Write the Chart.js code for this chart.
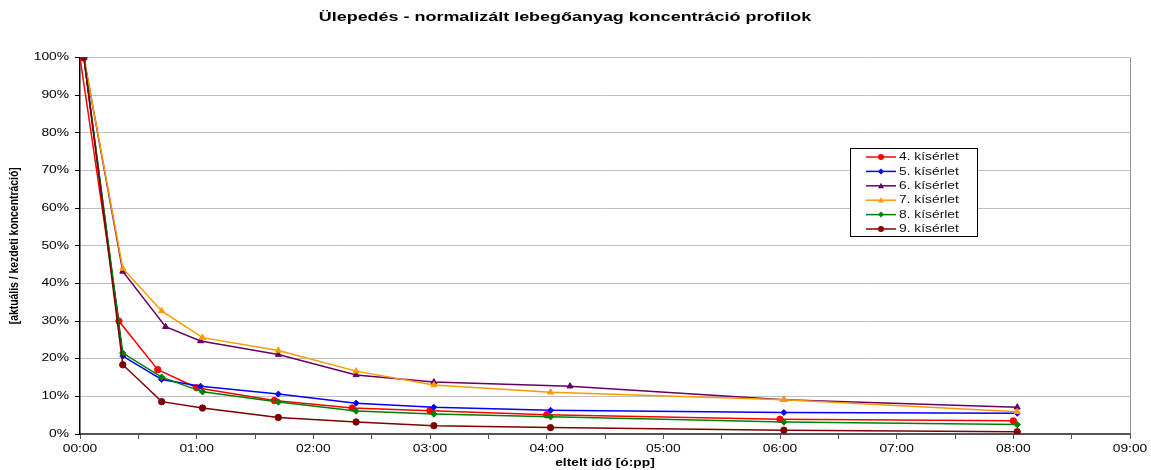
<!DOCTYPE html>
<html>
<head>
<meta charset="utf-8">
<script src="https://cdn.jsdelivr.net/npm/chart.js@4.4.0/dist/chart.umd.min.js"></script>
<style>
  html, body { margin: 0; padding: 0; background: #fff; }
  #wrap { width: 1151px; height: 470px; }
</style>
</head>
<body>
<div id="wrap"><canvas id="myChart" width="1151" height="470"></canvas></div>
<script>
// elapsed time in minutes, values in % of initial concentration
const labels = ['4. kísérlet', '5. kísérlet', '6. kísérlet', '7. kísérlet', '8. kísérlet', '9. kísérlet'];

const t4 = [0, 20, 40, 60, 100, 140, 180, 240, 360, 480];
const v4 = [100, 30, 17.1, 12.3, 8.9, 6.9, 6.2, 5.1, 3.9, 3.5];

const t5 = [2, 22, 42, 62, 102, 142, 182, 242, 362, 482];
const v5 = [100, 20.7, 14.5, 12.7, 10.6, 8.2, 7.1, 6.3, 5.7, 5.5];

const t6 = [2, 22, 44, 62, 102, 142, 182, 252, 362, 482];
const v6 = [100, 43.2, 28.5, 24.7, 21.1, 15.7, 13.8, 12.7, 9.1, 7.1];

const t7 = [2, 22, 42, 63, 102, 142, 182, 242, 362, 482];
const v7 = [100, 44.0, 32.7, 25.6, 22.2, 16.7, 13.0, 11.1, 9.1, 5.9];

const t8 = [2, 22, 42, 63, 102, 142, 182, 242, 362, 482];
const v8 = [100, 21.5, 15.1, 11.2, 8.5, 6.1, 5.3, 4.6, 3.2, 2.5];

const t9 = [2, 22, 42, 63, 102, 142, 182, 242, 362, 482];
const v9 = [100, 18.4, 8.6, 6.9, 4.4, 3.2, 2.2, 1.7, 1.0, 0.6];

const colors = ['#ff0000', '#0000ff', '#660066', '#ff9900', '#008000', '#800000'];
const shapes = ['circle', 'rectRot', 'triangle', 'triangle', 'rectRot', 'circle'];
const sizes = [3.2, 3, 3.5, 3.5, 3.2, 3.2];

const times = [t4, t5, t6, t7, t8, t9];
const values = [v4, v5, v6, v7, v8, v9];

const yTitle = '[aktuális / kezdeti koncentráció]';
const FONT = '"Liberation Sans", Arial, sans-serif';

const toPoints = (ts, vs) => ts.map((t, i) => ({ x: t, y: vs[i] }));

const datasets = labels.map((lab, i) => ({
    label: lab,
    data: toPoints(times[i], values[i]),
    borderColor: colors[i],
    backgroundColor: colors[i],
    borderWidth: 1.5,
    pointStyle: shapes[i],
    pointRadius: sizes[i],
    pointBorderWidth: 1,
    tension: 0,
    order: labels.length - i,
}));

const pad2 = n => String(n).padStart(2, '0');

const ctx = document.getElementById('myChart').getContext('2d');

// the original's text is stretched sideways, draw it the same way
let stretch = 1.38;
const rawFillText = ctx.fillText.bind(ctx);
ctx.fillText = function (text, x, y, maxWidth) {
    if (stretch === 1) return rawFillText(text, x, y, maxWidth);
    ctx.save();
    ctx.translate(x, y);
    ctx.scale(stretch, 1);
    rawFillText(text, 0, 0);
    ctx.restore();
};

function marker(c, style, x, y, r, color) {
    c.save();
    c.fillStyle = color;
    c.beginPath();
    if (style === 'circle') {
        c.arc(x, y, r, 0, Math.PI * 2);
    } else if (style === 'rectRot') {
        c.moveTo(x, y - r); c.lineTo(x + r, y); c.lineTo(x, y + r); c.lineTo(x - r, y);
    } else {
        c.moveTo(x, y - r); c.lineTo(x + r, y + r * 0.8); c.lineTo(x - r, y + r * 0.8);
    }
    c.closePath();
    c.fill();
    c.restore();
}

// y title: rotated, so the sideways stretch makes the glyphs thick, not long
const yTitlePlugin = {
    id: 'yTitlePlugin',
    afterDraw(chart) {
        const c = chart.ctx;
        const a = chart.chartArea;
        const old = stretch;
        c.save();
        c.translate(14, (a.top + a.bottom) / 2);
        c.rotate(-Math.PI / 2);
        c.scale(1, 1.3);
        c.font = 'bold 10.4px ' + FONT;
        c.fillStyle = '#000';
        c.textAlign = 'center';
        c.textBaseline = 'middle';
        stretch = 1;
        c.fillText(yTitle, 0, 0);
        stretch = old;
        c.restore();
    }
};

// legend box sitting inside the plot, like the original
const boxLegend = {
    id: 'boxLegend',
    afterDraw(chart) {
        const c = chart.ctx;
        const left = 850, top = 148, w = 127, h = 88, step = 14.4;
        c.save();
        c.fillStyle = '#fff';
        c.fillRect(left, top, w, h);
        c.strokeStyle = '#000';
        c.lineWidth = 1;
        c.strokeRect(left + 0.5, top + 0.5, w, h);
        c.font = '10px ' + FONT;
        c.textBaseline = 'middle';
        c.textAlign = 'left';
        chart.data.datasets.forEach((ds, i) => {
            const y = top + 9 + i * step;
            c.strokeStyle = ds.borderColor;
            c.lineWidth = 1.5;
            c.beginPath();
            c.moveTo(866, y); c.lineTo(896, y);
            c.stroke();
            marker(c, shapes[i], 881, y, 3, ds.borderColor);
            c.fillStyle = '#111';
            c.fillText(ds.label, 899, y + 0.5);
        });
        c.restore();
    }
};

const chart = new Chart(ctx, {
    type: 'line',
    data: { datasets: datasets },
    plugins: [yTitlePlugin, boxLegend],
    options: {
        responsive: false,
        animation: false,
        layout: { padding: { left: 0, right: 21, top: 0, bottom: 0 } },
        plugins: {
            legend: { display: false },
            tooltip: { enabled: false },
            title: {
                display: true,
                text: 'Ülepedés - normalizált lebegőanyag koncentráció profilok',
                color: '#000',
                font: { family: FONT, size: 13, weight: 'bold' },
                padding: { top: 10, bottom: 32 }
            }
        },
        scales: {
            x: {
                type: 'linear',
                min: 0,
                max: 540,
                afterFit(axis) { axis.height = 36; },
                ticks: {
                    stepSize: 30,
                    autoSkip: false,
                    maxRotation: 0,
                    padding: 4,
                    color: '#000',
                    font: { family: FONT, size: 10 },
                    callback: v => (v % 60 === 0 ? pad2(v / 60) + ':00' : '')
                },
                grid: {
                    drawOnChartArea: true,
                    color: c => (c.tick && c.tick.value === 540 ? '#999999' : 'rgba(0,0,0,0)'),
                    tickColor: '#555',
                    tickLength: 5
                },
                border: { color: '#555', width: 2 },
                title: {
                    display: true,
                    text: 'eltelt idő [ó:pp]',
                    color: '#000',
                    font: { family: FONT, size: 10, weight: 'bold' },
                    padding: { top: 0, bottom: 1 }
                }
            },
            y: {
                min: 0,
                max: 100,
                afterFit(axis) { axis.width = 80; },
                ticks: {
                    stepSize: 10,
                    padding: 6,
                    color: '#000',
                    font: { family: FONT, size: 10 },
                    callback: v => v + '%'
                },
                grid: {
                    color: '#c0c0c0',
                    tickColor: '#000',
                    tickLength: 5
                },
                border: { color: '#000', width: 1.5 },
                title: { display: false }
            }
        }
    }
});
</script>
</body>
</html>
